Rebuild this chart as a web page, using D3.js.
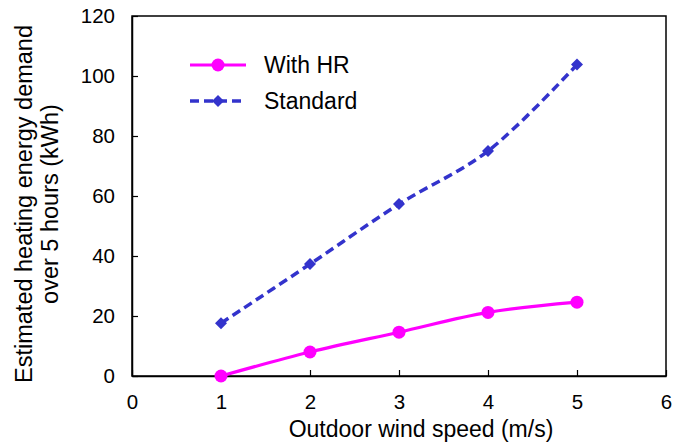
<!DOCTYPE html>
<html lang="en">
  <head>
    <meta charset="UTF-8" />
    <title>Heating energy demand vs wind speed</title>
    <style>
      body { margin: 0; background: #fff; }
      svg text { font-family: "Liberation Sans", Arial, sans-serif; fill: #000; }
    </style>
  </head>
  <body>
    <svg id="svg" width="675" height="443"></svg>
    <script src="https://cdn.jsdelivr.net/npm/d3@7"></script>
    <script>
      // Data
      const windSpeed = [1, 2, 3, 4, 5];
      const withHR = [0, 8, 14.6, 21.2, 24.6];
      const standard = [17.6, 37.3, 57.3, 75, 103.8];
      const xTicks = [0, 1, 2, 3, 4, 5, 6];
      const yTicks = [0, 20, 40, 60, 80, 100, 120];

      const margin = { top: 16, right: 9, bottom: 67, left: 132 };
      const width = 675 - margin.left - margin.right;
      const height = 443 - margin.top - margin.bottom;

      const svg = d3.select("#svg")
        .append("g")
        .attr("transform", `translate(${margin.left},${margin.top})`);

      const x = d3.scaleLinear().domain([0, 6]).range([0, width]);
      const y = d3.scaleLinear().domain([0, 120]).range([height, 0]);

      // frame
      svg.append("rect")
        .attr("width", width).attr("height", height)
        .attr("fill", "none").attr("stroke", "#000").attr("stroke-width", 1.5);

      // axes with inward ticks
      const xaxis = svg.append("g")
        .attr("transform", `translate(0,${height})`)
        .call(d3.axisBottom(x).tickValues(xTicks).tickFormat(d3.format("d"))
          .tickSizeInner(-6).tickSizeOuter(0).tickPadding(18));
      const yaxis = svg.append("g")
        .call(d3.axisLeft(y).tickValues(yTicks).tickFormat(d3.format("d"))
          .tickSizeInner(-6).tickSizeOuter(0).tickPadding(17));
      [xaxis, yaxis].forEach((a) => {
        a.attr("font-family", null).attr("font-size", null);
        a.select(".domain").attr("stroke", "#000").attr("stroke-width", 1.5);
        a.selectAll(".tick line").attr("stroke", "#000").attr("stroke-width", 1.2);
        a.selectAll("text").style("font-size", "20.5px");
      });

      // axis titles
      svg.append("text")
        .attr("x", x(3) + 22).attr("y", height + 61)
        .attr("text-anchor", "middle").style("font-size", "23px")
        .text("Outdoor wind speed (m/s)");
      const yt = svg.append("text")
        .attr("transform", `translate(${32 - margin.left},${204 - margin.top}) rotate(-90)`)
        .attr("text-anchor", "middle").style("font-size", "23.5px");
      yt.append("tspan").attr("x", 0).attr("dy", 0).text("Estimated heating energy demand");
      yt.append("tspan").attr("x", 0).attr("dy", 26).text("over 5 hours (kWh)");

      const line = d3.line()
        .x((d) => x(d[0])).y((d) => y(d[1]))
        .curve(d3.curveCatmullRom.alpha(0.5));

      const hrPts = windSpeed.map((w, i) => [w, withHR[i]]);
      const stdPts = windSpeed.map((w, i) => [w, standard[i]]);
      const magenta = "#ff00ff";
      const blue = "#3333cc";
      const diamond = d3.symbol().type(d3.symbolSquare).size(72);

      svg.append("path").datum(stdPts).attr("d", line)
        .attr("fill", "none").attr("stroke", blue).attr("stroke-width", 3.5)
        .attr("stroke-dasharray", "9,5");
      svg.selectAll(".std").data(stdPts).enter().append("path")
        .attr("class", "std").attr("d", diamond)
        .attr("transform", (d) => `translate(${x(d[0])},${y(d[1])}) rotate(45)`)
        .attr("fill", blue);

      svg.append("path").datum(hrPts).attr("d", line)
        .attr("fill", "none").attr("stroke", magenta).attr("stroke-width", 3.2);
      svg.selectAll(".hr").data(hrPts).enter().append("circle")
        .attr("class", "hr").attr("r", 6.5)
        .attr("cx", (d) => x(d[0])).attr("cy", (d) => y(d[1]))
        .attr("fill", magenta);

      // legend
      const lg = svg.append("g").attr("transform", "translate(58,49)");
      lg.append("line").attr("x1", 0).attr("x2", 56).attr("y1", 0).attr("y2", 0)
        .attr("stroke", magenta).attr("stroke-width", 3.2);
      lg.append("circle").attr("cx", 28).attr("cy", 0).attr("r", 6.5).attr("fill", magenta);
      lg.append("text").attr("x", 74).attr("y", 8).style("font-size", "23px").text("With HR");
      lg.append("line").attr("x1", 0).attr("x2", 56).attr("y1", 36).attr("y2", 36)
        .attr("stroke", blue).attr("stroke-width", 3.5).attr("stroke-dasharray", "9,5");
      lg.append("path").attr("d", diamond).attr("transform", "translate(28,36) rotate(45)").attr("fill", blue);
      lg.append("text").attr("x", 74).attr("y", 44).style("font-size", "23px").text("Standard");
    </script>
  </body>
</html>
